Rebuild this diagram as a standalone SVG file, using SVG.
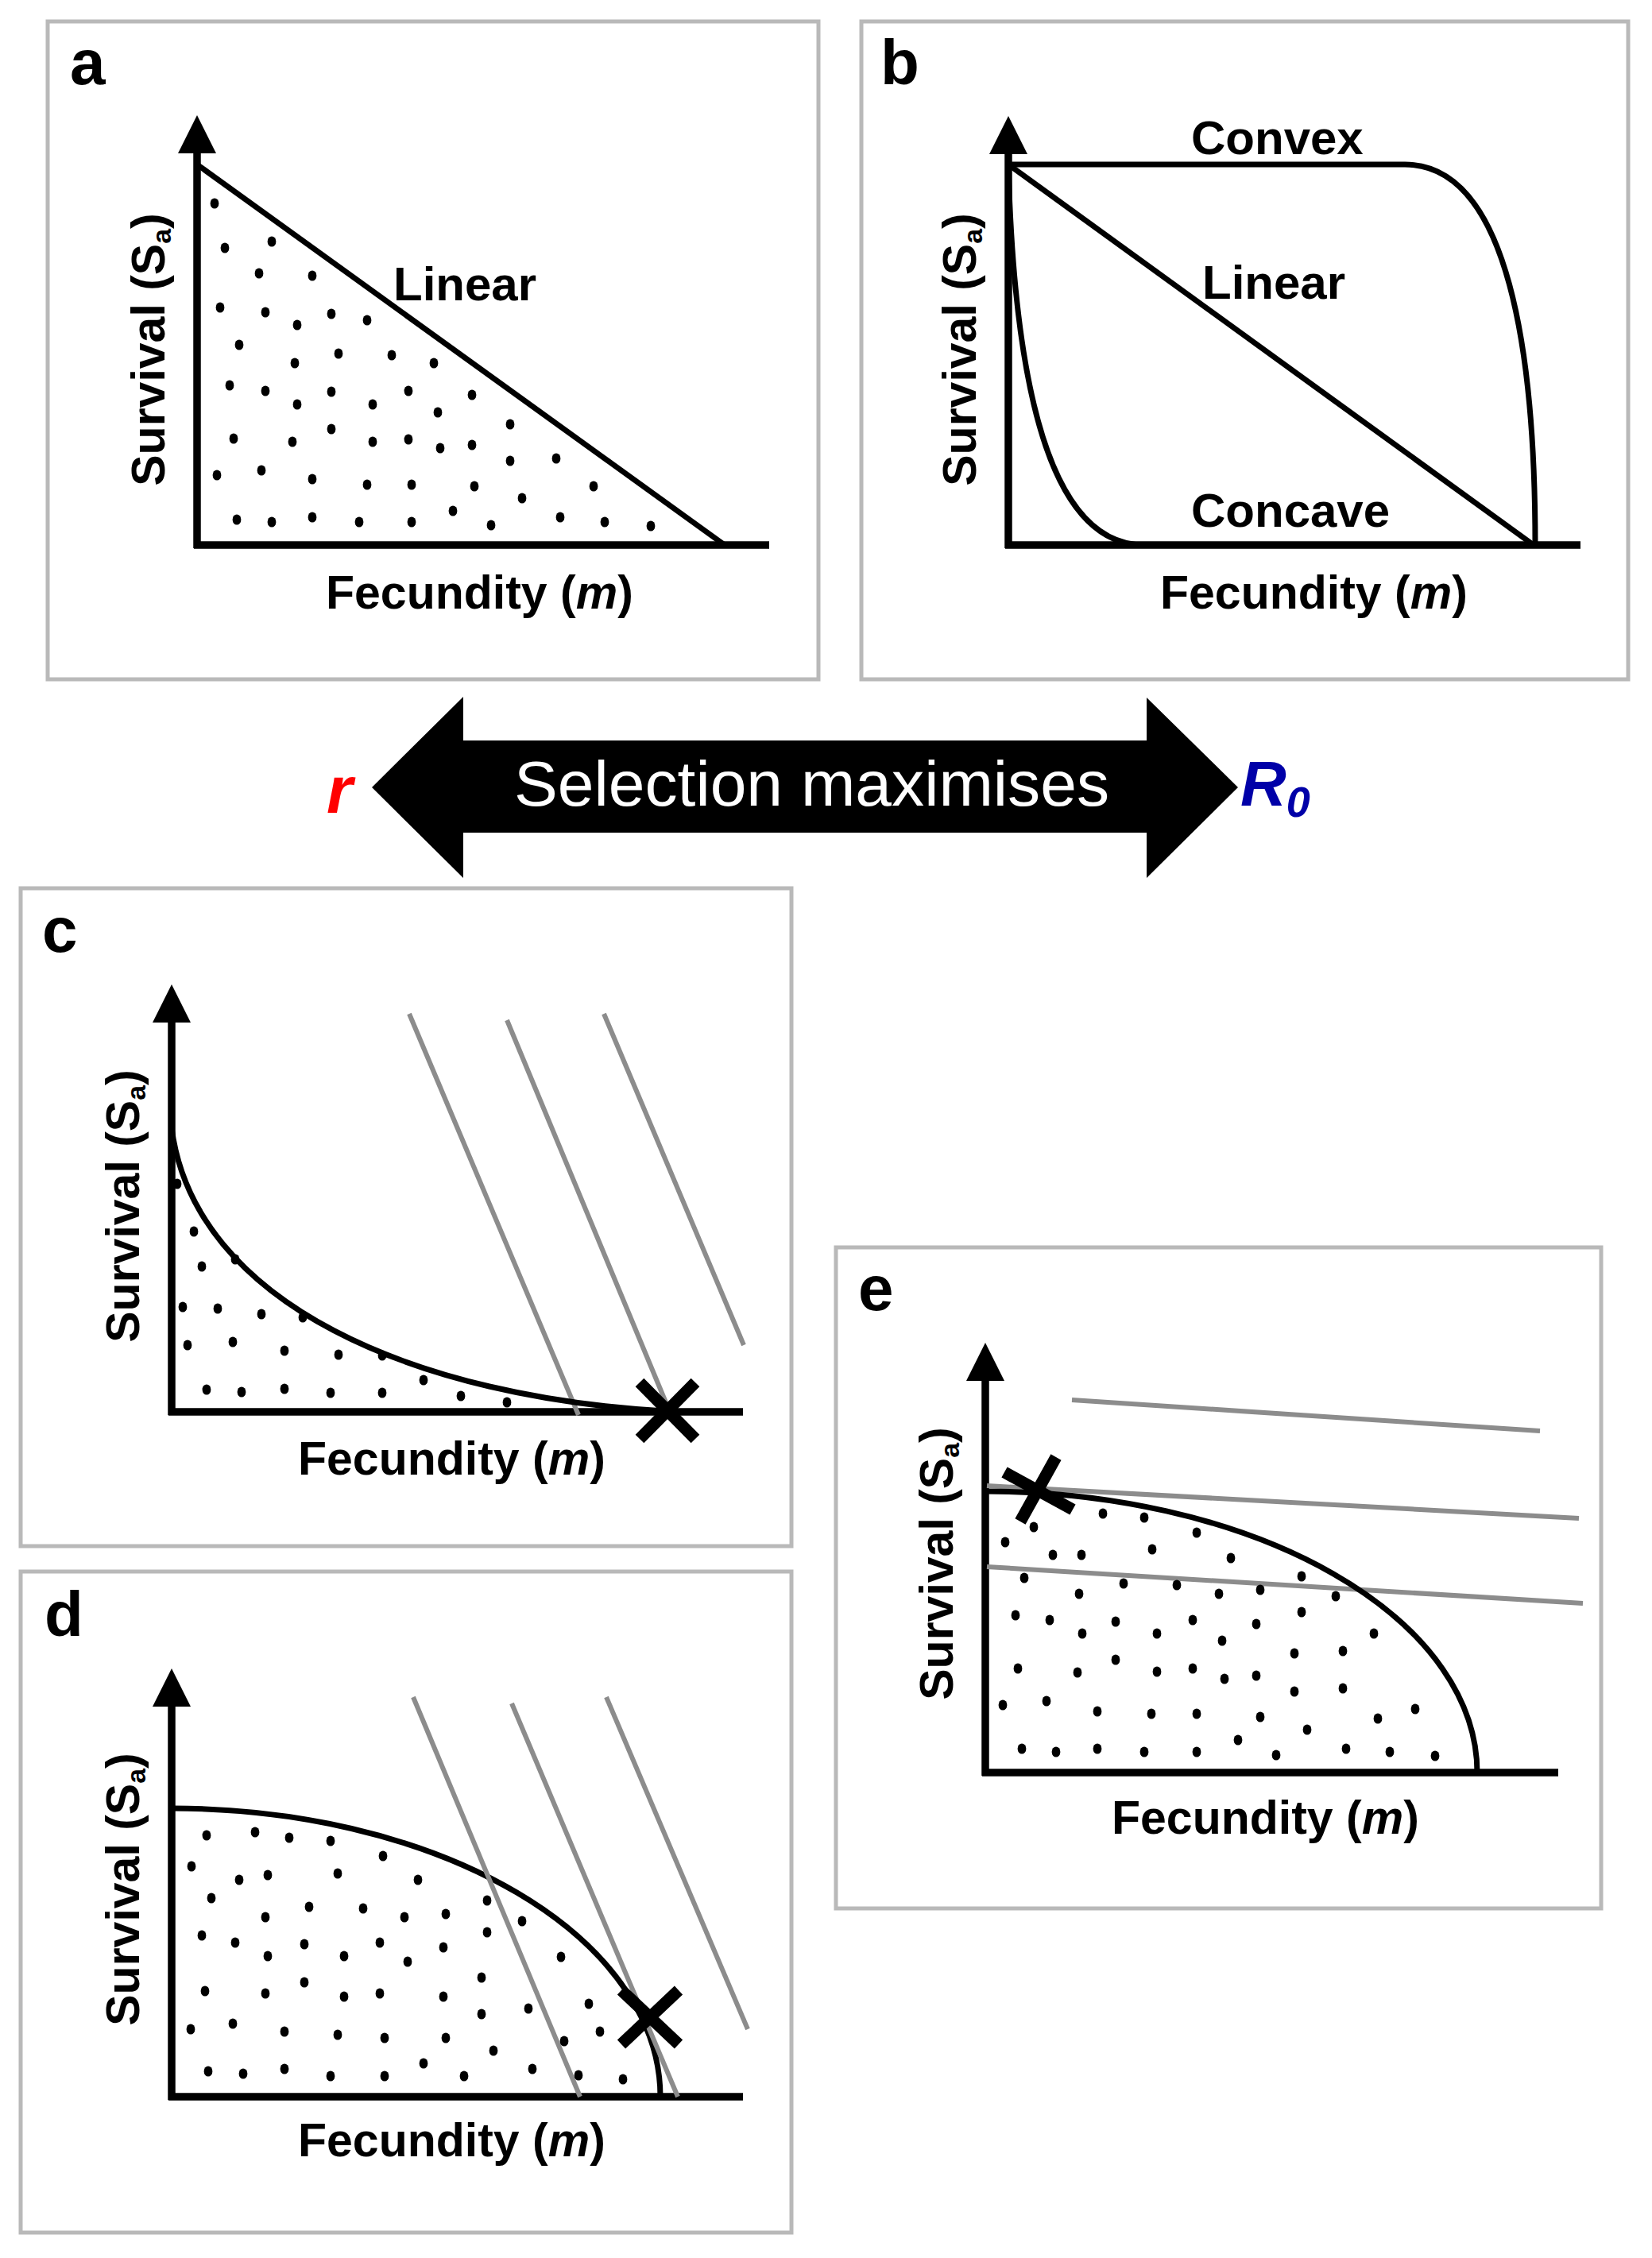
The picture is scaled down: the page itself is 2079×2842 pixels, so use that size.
<svg xmlns="http://www.w3.org/2000/svg" xmlns:xlink="http://www.w3.org/1999/xlink" width="2079" height="2842" viewBox="0 0 2079 2842">
<style>
.frame{fill:#fff;stroke:#b9b9b9;stroke-width:5}
.axis{stroke:#000;stroke-width:9.5;fill:none}
.curve{stroke:#000;stroke-width:7;fill:none}
.iso{stroke:#8c8c8c;stroke-width:6;fill:none}
.xm{stroke:#000;stroke-width:15;fill:none}
.lbl{font-family:'Liberation Sans',Arial,sans-serif;font-weight:bold;font-size:80px;fill:#000}
.t{font-family:'Liberation Sans',Arial,sans-serif;font-weight:bold;font-size:60px;fill:#000}
.ax{font-family:'Liberation Sans',Arial,sans-serif;font-weight:bold;font-size:59px;fill:#000}
.sub{font-size:34px}
</style>
<defs>
<path id="ahead" d="M0,0 L-24,48 L24,48 Z" fill="#000"/>
<ellipse id="dot" rx="5.4" ry="6.6" fill="#000"/>
</defs>
<rect width="2079" height="2842" fill="#fff"/>

<g id="panel-a">
<rect class="frame" x="60" y="27" width="970" height="828"/>
<text class="lbl" x="88" y="106">a</text>
<line class="axis" x1="248" y1="690" x2="248" y2="185"/>
<use xlink:href="#ahead" x="248" y="145"/>
<line class="axis" x1="244" y1="686" x2="968" y2="686"/>
<line class="curve" x1="248" y1="207" x2="912" y2="686"/>
<g>
<use xlink:href="#dot" x="270" y="256"/><use xlink:href="#dot" x="283" y="312"/><use xlink:href="#dot" x="342" y="304"/><use xlink:href="#dot" x="326" y="344"/><use xlink:href="#dot" x="393" y="347"/><use xlink:href="#dot" x="277" y="387"/><use xlink:href="#dot" x="334" y="393"/><use xlink:href="#dot" x="374" y="409"/><use xlink:href="#dot" x="417" y="395"/><use xlink:href="#dot" x="462" y="403"/><use xlink:href="#dot" x="301" y="434"/><use xlink:href="#dot" x="371" y="457"/><use xlink:href="#dot" x="426" y="445"/><use xlink:href="#dot" x="493" y="447"/><use xlink:href="#dot" x="546" y="457"/><use xlink:href="#dot" x="289" y="485"/><use xlink:href="#dot" x="334" y="492"/><use xlink:href="#dot" x="374" y="509"/><use xlink:href="#dot" x="417" y="493"/><use xlink:href="#dot" x="469" y="509"/><use xlink:href="#dot" x="514" y="492"/><use xlink:href="#dot" x="551" y="519"/><use xlink:href="#dot" x="594" y="497"/><use xlink:href="#dot" x="294" y="552"/><use xlink:href="#dot" x="368" y="556"/><use xlink:href="#dot" x="417" y="540"/><use xlink:href="#dot" x="469" y="556"/><use xlink:href="#dot" x="514" y="553"/><use xlink:href="#dot" x="554" y="564"/><use xlink:href="#dot" x="594" y="560"/><use xlink:href="#dot" x="642" y="534"/><use xlink:href="#dot" x="642" y="580"/><use xlink:href="#dot" x="700" y="577"/><use xlink:href="#dot" x="273" y="598"/><use xlink:href="#dot" x="329" y="592"/><use xlink:href="#dot" x="393" y="603"/><use xlink:href="#dot" x="462" y="610"/><use xlink:href="#dot" x="518" y="610"/><use xlink:href="#dot" x="597" y="612"/><use xlink:href="#dot" x="657" y="627"/><use xlink:href="#dot" x="747" y="612"/><use xlink:href="#dot" x="298" y="654"/><use xlink:href="#dot" x="342" y="657"/><use xlink:href="#dot" x="393" y="651"/><use xlink:href="#dot" x="452" y="657"/><use xlink:href="#dot" x="518" y="657"/><use xlink:href="#dot" x="570" y="643"/><use xlink:href="#dot" x="618" y="661"/><use xlink:href="#dot" x="705" y="651"/><use xlink:href="#dot" x="761" y="657"/><use xlink:href="#dot" x="819" y="662"/>
</g>
<text class="t" x="495" y="378">Linear</text>
<text class="ax" x="410" y="766">Fecundity (<tspan font-style="italic">m</tspan>)</text>
<text class="ax" transform="translate(207,440) rotate(-90)" text-anchor="middle">Survival (S<tspan class="sub" dy="8">a</tspan><tspan dy="-8">)</tspan></text>
</g>

<g id="panel-b">
<rect class="frame" x="1084" y="27" width="965" height="828"/>
<text class="lbl" x="1108" y="106">b</text>
<line class="axis" x1="1269" y1="690" x2="1269" y2="185"/>
<use xlink:href="#ahead" x="1269" y="146"/>
<line class="axis" x1="1265" y1="686" x2="1989" y2="686"/>
<path class="curve" d="M1269,207 H1768 C1900,207 1932,450 1932,686"/>
<line class="curve" x1="1269" y1="207" x2="1930" y2="686"/>
<path class="curve" d="M1269,207 C1277,515 1330,686 1440,686"/>
<text class="t" x="1499" y="194">Convex</text>
<text class="t" x="1513" y="376">Linear</text>
<text class="t" x="1499" y="663">Concave</text>
<text class="ax" x="1460" y="766">Fecundity (<tspan font-style="italic">m</tspan>)</text>
<text class="ax" transform="translate(1228,440) rotate(-90)" text-anchor="middle">Survival (S<tspan class="sub" dy="8">a</tspan><tspan dy="-8">)</tspan></text>
</g>

<g id="connectors">
<polygon points="468,991 583,877 583,932 1443,932 1443,878 1558,991 1443,1105 1443,1048 583,1048 583,1105" fill="#000"/>
<text x="647" y="1014" font-family="'Liberation Sans',Arial,sans-serif" font-size="80" fill="#fff" textLength="749" lengthAdjust="spacingAndGlyphs">Selection maximises</text>
<text x="411" y="1023" font-family="'Liberation Sans',Arial,sans-serif" font-size="84" font-weight="bold" font-style="italic" fill="#ff0000">r</text>
<text x="1561" y="1014" font-family="'Liberation Sans',Arial,sans-serif" font-size="80" font-weight="bold" font-style="italic" fill="#0000a8">R<tspan font-size="54" dy="14">0</tspan></text>
</g>

<g id="panel-c">
<rect class="frame" x="26" y="1118" width="970" height="828"/>
<text class="lbl" x="53" y="1198">c</text>
<line class="axis" x1="216" y1="1781" x2="216" y2="1280"/>
<use xlink:href="#ahead" x="216" y="1239"/>
<line class="axis" x1="212" y1="1777" x2="935" y2="1777"/>
<line class="iso" x1="515" y1="1276" x2="728" y2="1781"/>
<line class="iso" x1="638" y1="1284" x2="840" y2="1770"/>
<line class="iso" x1="760" y1="1276" x2="936" y2="1693"/>
<path class="curve" d="M216,1420 C245,1640 520,1760 850,1777"/>
<g>
<use xlink:href="#dot" x="223" y="1490"/><use xlink:href="#dot" x="244" y="1550"/><use xlink:href="#dot" x="254" y="1594"/><use xlink:href="#dot" x="296" y="1585"/><use xlink:href="#dot" x="230" y="1645"/><use xlink:href="#dot" x="274" y="1647"/><use xlink:href="#dot" x="329" y="1654"/><use xlink:href="#dot" x="381" y="1658"/><use xlink:href="#dot" x="236" y="1693"/><use xlink:href="#dot" x="293" y="1689"/><use xlink:href="#dot" x="358" y="1700"/><use xlink:href="#dot" x="426" y="1705"/><use xlink:href="#dot" x="481" y="1706"/><use xlink:href="#dot" x="260" y="1749"/><use xlink:href="#dot" x="304" y="1752"/><use xlink:href="#dot" x="358" y="1748"/><use xlink:href="#dot" x="416" y="1753"/><use xlink:href="#dot" x="481" y="1753"/><use xlink:href="#dot" x="533" y="1737"/><use xlink:href="#dot" x="580" y="1757"/><use xlink:href="#dot" x="638" y="1765"/>
</g>
<path class="xm" d="M805,1740 L875,1811 M875,1740 L805,1811"/>
<text class="ax" x="375" y="1856">Fecundity (<tspan font-style="italic">m</tspan>)</text>
<text class="ax" transform="translate(175,1518) rotate(-90)" text-anchor="middle">Survival (S<tspan class="sub" dy="8">a</tspan><tspan dy="-8">)</tspan></text>
</g>

<g id="panel-d">
<rect class="frame" x="26" y="1978" width="970" height="832"/>
<text class="lbl" x="56" y="2059">d</text>
<line class="axis" x1="216" y1="2643" x2="216" y2="2140"/>
<use xlink:href="#ahead" x="216" y="2100"/>
<line class="axis" x1="212" y1="2639" x2="935" y2="2639"/>
<path class="curve" d="M216,2276 A615,363 0 0 1 831,2639"/>
<line class="iso" x1="520" y1="2136" x2="730" y2="2639"/>
<line class="iso" x1="644" y1="2144" x2="853" y2="2639"/>
<line class="iso" x1="763" y1="2136" x2="941" y2="2554"/>
<g>
<use xlink:href="#dot" x="260" y="2310"/><use xlink:href="#dot" x="321" y="2306"/><use xlink:href="#dot" x="364" y="2313"/><use xlink:href="#dot" x="416" y="2317"/><use xlink:href="#dot" x="241" y="2349"/><use xlink:href="#dot" x="301" y="2366"/><use xlink:href="#dot" x="337" y="2360"/><use xlink:href="#dot" x="425" y="2358"/><use xlink:href="#dot" x="482" y="2336"/><use xlink:href="#dot" x="526" y="2366"/><use xlink:href="#dot" x="266" y="2389"/><use xlink:href="#dot" x="389" y="2400"/><use xlink:href="#dot" x="457" y="2402"/><use xlink:href="#dot" x="334" y="2413"/><use xlink:href="#dot" x="509" y="2413"/><use xlink:href="#dot" x="561" y="2409"/><use xlink:href="#dot" x="613" y="2392"/><use xlink:href="#dot" x="657" y="2418"/><use xlink:href="#dot" x="254" y="2436"/><use xlink:href="#dot" x="296" y="2445"/><use xlink:href="#dot" x="383" y="2447"/><use xlink:href="#dot" x="478" y="2445"/><use xlink:href="#dot" x="337" y="2462"/><use xlink:href="#dot" x="433" y="2462"/><use xlink:href="#dot" x="513" y="2469"/><use xlink:href="#dot" x="558" y="2451"/><use xlink:href="#dot" x="613" y="2432"/><use xlink:href="#dot" x="706" y="2463"/><use xlink:href="#dot" x="258" y="2506"/><use xlink:href="#dot" x="334" y="2509"/><use xlink:href="#dot" x="383" y="2495"/><use xlink:href="#dot" x="433" y="2513"/><use xlink:href="#dot" x="478" y="2509"/><use xlink:href="#dot" x="558" y="2513"/><use xlink:href="#dot" x="606" y="2489"/><use xlink:href="#dot" x="606" y="2535"/><use xlink:href="#dot" x="665" y="2528"/><use xlink:href="#dot" x="741" y="2522"/><use xlink:href="#dot" x="240" y="2554"/><use xlink:href="#dot" x="293" y="2547"/><use xlink:href="#dot" x="358" y="2557"/><use xlink:href="#dot" x="425" y="2561"/><use xlink:href="#dot" x="484" y="2565"/><use xlink:href="#dot" x="561" y="2565"/><use xlink:href="#dot" x="621" y="2581"/><use xlink:href="#dot" x="710" y="2569"/><use xlink:href="#dot" x="755" y="2557"/><use xlink:href="#dot" x="262" y="2607"/><use xlink:href="#dot" x="306" y="2610"/><use xlink:href="#dot" x="358" y="2604"/><use xlink:href="#dot" x="416" y="2613"/><use xlink:href="#dot" x="484" y="2613"/><use xlink:href="#dot" x="533" y="2597"/><use xlink:href="#dot" x="584" y="2613"/><use xlink:href="#dot" x="670" y="2604"/><use xlink:href="#dot" x="728" y="2612"/><use xlink:href="#dot" x="784" y="2617"/>
</g>
<path class="xm" d="M782,2505 L854,2573 M854,2505 L782,2573"/>
<text class="ax" x="375" y="2714">Fecundity (<tspan font-style="italic">m</tspan>)</text>
<text class="ax" transform="translate(175,2378) rotate(-90)" text-anchor="middle">Survival (S<tspan class="sub" dy="8">a</tspan><tspan dy="-8">)</tspan></text>
</g>

<g id="panel-e">
<rect class="frame" x="1052" y="1570" width="963" height="832"/>
<text class="lbl" x="1080" y="1649">e</text>
<line class="axis" x1="1240" y1="2235" x2="1240" y2="1730"/>
<use xlink:href="#ahead" x="1240" y="1690"/>
<line class="axis" x1="1236" y1="2231" x2="1961" y2="2231"/>
<line class="iso" x1="1349" y1="1762" x2="1938" y2="1801"/>
<line class="iso" x1="1242" y1="1870" x2="1987" y2="1911"/>
<line class="iso" x1="1242" y1="1972" x2="1992" y2="2018"/>
<path class="curve" d="M1240,1877 A619,354 0 0 1 1859,2231"/>
<g>
<use xlink:href="#dot" x="1301" y="1922"/><use xlink:href="#dot" x="1388" y="1905"/><use xlink:href="#dot" x="1440" y="1910"/><use xlink:href="#dot" x="1265" y="1941"/><use xlink:href="#dot" x="1325" y="1957"/><use xlink:href="#dot" x="1361" y="1957"/><use xlink:href="#dot" x="1450" y="1950"/><use xlink:href="#dot" x="1506" y="1929"/><use xlink:href="#dot" x="1549" y="1961"/><use xlink:href="#dot" x="1289" y="1986"/><use xlink:href="#dot" x="1414" y="1993"/><use xlink:href="#dot" x="1481" y="1995"/><use xlink:href="#dot" x="1358" y="2006"/><use xlink:href="#dot" x="1534" y="2006"/><use xlink:href="#dot" x="1586" y="2001"/><use xlink:href="#dot" x="1638" y="1984"/><use xlink:href="#dot" x="1681" y="2009"/><use xlink:href="#dot" x="1278" y="2033"/><use xlink:href="#dot" x="1321" y="2039"/><use xlink:href="#dot" x="1404" y="2041"/><use xlink:href="#dot" x="1501" y="2039"/><use xlink:href="#dot" x="1362" y="2056"/><use xlink:href="#dot" x="1456" y="2056"/><use xlink:href="#dot" x="1538" y="2065"/><use xlink:href="#dot" x="1581" y="2044"/><use xlink:href="#dot" x="1638" y="2029"/><use xlink:href="#dot" x="1729" y="2056"/><use xlink:href="#dot" x="1281" y="2100"/><use xlink:href="#dot" x="1356" y="2105"/><use xlink:href="#dot" x="1404" y="2089"/><use xlink:href="#dot" x="1456" y="2104"/><use xlink:href="#dot" x="1501" y="2100"/><use xlink:href="#dot" x="1541" y="2113"/><use xlink:href="#dot" x="1581" y="2109"/><use xlink:href="#dot" x="1629" y="2081"/><use xlink:href="#dot" x="1690" y="2078"/><use xlink:href="#dot" x="1629" y="2129"/><use xlink:href="#dot" x="1690" y="2125"/><use xlink:href="#dot" x="1262" y="2146"/><use xlink:href="#dot" x="1317" y="2141"/><use xlink:href="#dot" x="1381" y="2154"/><use xlink:href="#dot" x="1449" y="2157"/><use xlink:href="#dot" x="1506" y="2157"/><use xlink:href="#dot" x="1586" y="2161"/><use xlink:href="#dot" x="1645" y="2177"/><use xlink:href="#dot" x="1734" y="2163"/><use xlink:href="#dot" x="1781" y="2151"/><use xlink:href="#dot" x="1286" y="2201"/><use xlink:href="#dot" x="1329" y="2205"/><use xlink:href="#dot" x="1381" y="2201"/><use xlink:href="#dot" x="1440" y="2205"/><use xlink:href="#dot" x="1506" y="2205"/><use xlink:href="#dot" x="1558" y="2190"/><use xlink:href="#dot" x="1606" y="2209"/><use xlink:href="#dot" x="1694" y="2201"/><use xlink:href="#dot" x="1749" y="2205"/><use xlink:href="#dot" x="1806" y="2210"/>
</g>
<path class="xm" d="M1264,1853 L1350,1900 M1284,1915 L1329,1834"/>
<text class="ax" x="1399" y="2308">Fecundity (<tspan font-style="italic">m</tspan>)</text>
<text class="ax" transform="translate(1199,1968) rotate(-90)" text-anchor="middle">Survival (S<tspan class="sub" dy="8">a</tspan><tspan dy="-8">)</tspan></text>
</g>
</svg>
